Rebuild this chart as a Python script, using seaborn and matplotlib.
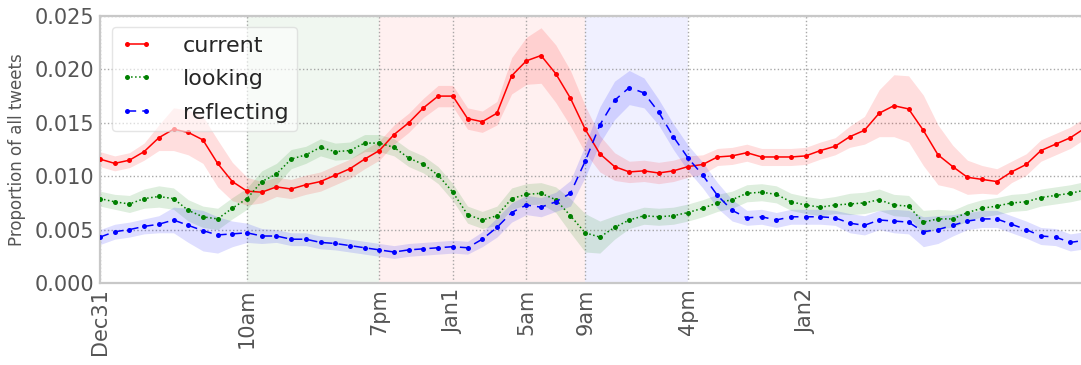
import numpy as np
import pandas as pd
import matplotlib
matplotlib.use("Agg")
import matplotlib.pyplot as plt
import seaborn as sns

# Hourly proportions starting at midnight Dec 31
hours = list(range(68))

current = [0.0116, 0.0112, 0.0115, 0.0123, 0.0136, 0.0144, 0.0141, 0.0134, 0.0112, 0.0095,
           0.0086, 0.0085, 0.0090, 0.0088, 0.0092, 0.0095, 0.0101, 0.0107, 0.0116, 0.0124,
           0.0139, 0.0150, 0.0164, 0.0175, 0.0175, 0.0154, 0.0151, 0.0159, 0.0194, 0.0208,
           0.0213, 0.0196, 0.0173, 0.0144, 0.0121, 0.0109, 0.0104, 0.0105, 0.0103, 0.0105,
           0.0109, 0.0111, 0.0118, 0.0119, 0.0122, 0.0118, 0.0118, 0.0118, 0.0119, 0.0124,
           0.0128, 0.0137, 0.0143, 0.0159, 0.0166, 0.0163, 0.0143, 0.0120, 0.0109, 0.0099,
           0.0097, 0.0095, 0.0104, 0.0111, 0.0124, 0.0130, 0.0136, 0.0145]

looking = [0.0079, 0.0076, 0.0074, 0.0079, 0.0081, 0.0079, 0.0068, 0.0062, 0.0060, 0.0070,
           0.0079, 0.0095, 0.0102, 0.0116, 0.0120, 0.0127, 0.0123, 0.0124, 0.0131, 0.0131,
           0.0127, 0.0117, 0.0111, 0.0101, 0.0085, 0.0064, 0.0059, 0.0063, 0.0079, 0.0083,
           0.0084, 0.0078, 0.0063, 0.0047, 0.0043, 0.0052, 0.0059, 0.0063, 0.0062, 0.0063,
           0.0066, 0.0070, 0.0075, 0.0078, 0.0084, 0.0085, 0.0083, 0.0076, 0.0073, 0.0071,
           0.0073, 0.0074, 0.0075, 0.0078, 0.0073, 0.0072, 0.0057, 0.0060, 0.0060, 0.0066,
           0.0070, 0.0072, 0.0075, 0.0076, 0.0080, 0.0082, 0.0084, 0.0087]

reflecting = [0.0043, 0.0048, 0.0050, 0.0053, 0.0055, 0.0059, 0.0054, 0.0049, 0.0045, 0.0046,
              0.0047, 0.0044, 0.0044, 0.0041, 0.0041, 0.0038, 0.0037, 0.0035, 0.0033, 0.0031,
              0.0029, 0.0031, 0.0032, 0.0033, 0.0034, 0.0033, 0.0041, 0.0052, 0.0066, 0.0073,
              0.0071, 0.0076, 0.0084, 0.0114, 0.0148, 0.0171, 0.0183, 0.0178, 0.0160, 0.0137,
              0.0117, 0.0101, 0.0082, 0.0068, 0.0061, 0.0062, 0.0059, 0.0062, 0.0062, 0.0062,
              0.0061, 0.0056, 0.0054, 0.0059, 0.0058, 0.0057, 0.0048, 0.0050, 0.0054, 0.0058,
              0.0060, 0.0060, 0.0055, 0.0050, 0.0044, 0.0043, 0.0038, 0.0040]

# Half-widths of the confidence bands
current_err = [0.0007, 0.0007, 0.0007, 0.0008, 0.0012, 0.0020, 0.0021, 0.0022, 0.0022, 0.0018,
               0.0013, 0.0010, 0.0009, 0.0009, 0.0009, 0.0009, 0.0009, 0.0009, 0.0009, 0.0009,
               0.0009, 0.0009, 0.0009, 0.0010, 0.0010, 0.0010, 0.0010, 0.0011, 0.0017, 0.0022,
               0.0026, 0.0027, 0.0026, 0.0022, 0.0017, 0.0013, 0.0010, 0.0010, 0.0010, 0.0010,
               0.0010, 0.0009, 0.0008, 0.0008, 0.0008, 0.0008, 0.0008, 0.0008, 0.0008, 0.0008,
               0.0008, 0.0010, 0.0013, 0.0022, 0.0029, 0.0031, 0.0033, 0.0028, 0.0020, 0.0016,
               0.0013, 0.0012, 0.0010, 0.0010, 0.0010, 0.0010, 0.0010, 0.0010]

looking_err = [0.0007, 0.0007, 0.0008, 0.0009, 0.0010, 0.0010, 0.0010, 0.0010, 0.0010, 0.0010,
               0.0010, 0.0010, 0.0010, 0.0009, 0.0008, 0.0008, 0.0008, 0.0008, 0.0008, 0.0008,
               0.0008, 0.0008, 0.0008, 0.0008, 0.0008, 0.0008, 0.0008, 0.0009, 0.0010, 0.0010,
               0.0010, 0.0012, 0.0016, 0.0018, 0.0015, 0.0011, 0.0008, 0.0008, 0.0008, 0.0008,
               0.0008, 0.0008, 0.0008, 0.0008, 0.0008, 0.0008, 0.0008, 0.0008, 0.0008, 0.0008,
               0.0008, 0.0010, 0.0010, 0.0010, 0.0010, 0.0010, 0.0011, 0.0009, 0.0008, 0.0008,
               0.0008, 0.0008, 0.0008, 0.0008, 0.0008, 0.0008, 0.0008, 0.0008]

reflecting_err = [0.0007, 0.0007, 0.0007, 0.0007, 0.0008, 0.0012, 0.0016, 0.0019, 0.0017, 0.0012,
                  0.0009, 0.0007, 0.0006, 0.0006, 0.0006, 0.0006, 0.0006, 0.0006, 0.0006, 0.0006,
                  0.0006, 0.0006, 0.0006, 0.0006, 0.0006, 0.0006, 0.0007, 0.0009, 0.0009, 0.0009,
                  0.0009, 0.0009, 0.0012, 0.0015, 0.0017, 0.0018, 0.0016, 0.0014, 0.0012, 0.0012,
                  0.0012, 0.0012, 0.0012, 0.0010, 0.0007, 0.0007, 0.0007, 0.0007, 0.0007, 0.0007,
                  0.0007, 0.0009, 0.0009, 0.0009, 0.0011, 0.0011, 0.0014, 0.0013, 0.0010, 0.0008,
                  0.0008, 0.0008, 0.0008, 0.0008, 0.0008, 0.0008, 0.0008, 0.0008]

tick_hours = [0, 10, 19, 24, 29, 33, 40, 48]
tick_labels = ["Dec31", "10am", "7pm", "Jan1", "5am", "9am", "4pm", "Jan2"]

# Highlighted periods: (start hour, end hour, colour)
periods = [(10, 19, "green"), (19, 33, "red"), (33, 40, "blue")]

sns.set_style("white")
plt.rcParams["font.family"] = ["DejaVu Sans"]

fig = plt.figure(figsize=(10.81, 3.65), dpi=100)
ax = fig.add_axes([100 / 1081, 82 / 365, 985 / 1081, 267 / 365])

for start, end, col in periods:
    ax.axvspan(start, end, color=col, alpha=0.06, lw=0, zorder=0)

series = [
    ("current", current, current_err, "red", "-"),
    ("looking", looking, looking_err, "green", ":"),
    ("reflecting", reflecting, reflecting_err, "blue", (0, (6, 4))),
]

for name, vals, err, col, ls in series:
    v = np.array(vals)
    e = np.array(err)
    ax.fill_between(hours, v - e, v + e, color=col, alpha=0.13, lw=0, zorder=1)
    df = pd.DataFrame({"hour": hours, "prop": vals})
    sns.lineplot(data=df, x="hour", y="prop", ax=ax, color=col, linestyle=ls,
                 linewidth=1.1, marker="o", markersize=3.6, markeredgewidth=0,
                 label=name, zorder=3)

ax.set_xlim(0, 67)
ax.set_ylim(0, 0.025)
ax.set_xticks(tick_hours)
ax.set_xticklabels(tick_labels, rotation=90)
ax.set_yticks(np.arange(0, 0.0251, 0.005))
ax.set_yticklabels([f"{t:.3f}" for t in np.arange(0, 0.0251, 0.005)])
ax.set_xlabel("")
ax.set_ylabel("Proportion of all tweets", fontsize=12, color="#555555", labelpad=6)

ax.tick_params(axis="both", length=0, labelsize=15, labelcolor="#555555", pad=4)
ax.grid(True, linestyle=":", color="#999999", linewidth=1.0, alpha=0.85)
for gl in ax.get_xgridlines() + ax.get_ygridlines():
    gl.set_zorder(0.5)

for sp in ax.spines.values():
    sp.set_color("#c8c8c8")
    sp.set_linewidth(1.6)

leg = ax.legend(loc="upper left", fontsize=16, numpoints=2, handlelength=1.45,
                handletextpad=1.35, labelspacing=0.6, borderpad=0.4,
                borderaxespad=0, frameon=True, framealpha=0.6, edgecolor="#d4d4d4",
                bbox_to_anchor=(0.012, 0.959))
leg.get_frame().set_linewidth(1.0)

fig.savefig("out.png", dpi=100)
